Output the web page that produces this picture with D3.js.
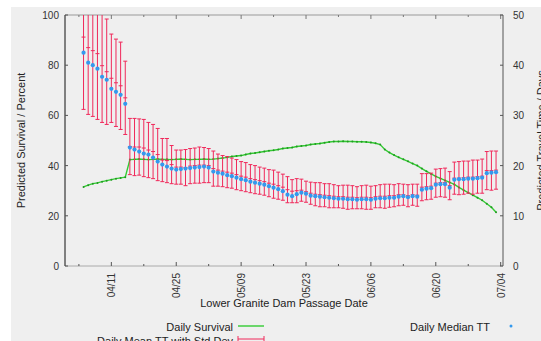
<!doctype html>
<html>
<head>
<meta charset="utf-8">
<script src="https://d3js.org/d3.v7.min.js"></script>
<style>
  body { margin: 0; background: #fff; }
  svg { font-family: 'Liberation Sans', Arial, sans-serif; }
  .tick-label { font-size: 10px; fill: #333; }
  .axis-title { font-size: 11px; fill: #222; }
  .legend text { font-size: 11px; fill: #222; }
</style>
</head>
<body>
<svg width="541" height="341"></svg>
<script>
// first passage date of the daily series, then one value per day
var startDate = "04/05";
var survival = [31.5, 32.2, 32.8, 33.1, 33.6, 34.0, 34.4, 34.8, 35.1, 35.4,
  42.4, 42.5, 42.6, 42.5, 42.4, 42.5, 42.6, 42.5, 42.5, 42.4, 42.5, 42.6, 42.5, 42.4, 42.5, 42.5, 42.6, 42.5, 42.6,
  42.8, 43.0, 43.3, 43.6, 43.8, 44.0, 44.4, 44.8, 45.0, 45.3, 45.6, 45.9, 46.1, 46.4, 46.8, 47.0, 47.2, 47.6, 47.8, 48.0, 48.4, 48.6, 48.8, 49.1, 49.4, 49.6,
  49.6, 49.7, 49.6, 49.6, 49.5, 49.5, 49.4, 49.2, 48.9, 48.4,
  46.4, 45.2, 44.2, 43.3, 42.5, 41.7, 40.8, 40.0, 38.8, 37.7, 36.7, 35.7, 34.9, 34.1, 33.3, 32.5, 31.3, 30.2, 29.2, 28.2, 27.2, 26.2, 24.8, 23.4, 21.4];
var medianTT = [42.5, 40.5, 40.0, 39.3, 37.7, 37.1, 35.3, 34.7, 34.1, 32.3,
  23.6, 23.2, 22.8, 22.4, 22.2, 21.6, 20.8, 20.2, 19.8, 19.4, 19.2, 19.3, 19.4, 19.5, 19.6, 19.7, 19.8, 19.6, 18.8,
  18.6, 18.4, 18.1, 17.9, 17.6, 17.3, 17.1, 16.8, 16.6, 16.4, 16.2, 15.9, 15.6, 15.3, 14.9, 14.2, 13.9, 14.3, 14.6, 14.4, 14.0,
  13.9, 13.8, 13.7, 13.6, 13.5, 13.4, 13.4, 13.3, 13.3, 13.2, 13.3, 13.3, 13.2, 13.4, 13.5, 13.5, 13.6, 13.6, 13.8, 13.9, 13.7, 13.9, 13.8,
  15.2, 15.4, 15.5, 16.2, 16.3, 16.3, 15.6, 17.2, 17.3, 17.3, 17.4, 17.4, 17.5, 17.6, 18.5, 18.6, 18.7];
var meanTT = [45.6, 43.5, 42.9, 42.3, 39.9, 38.7, 37.4, 36.5, 35.9, 33.5,
  23.8, 23.7, 23.7, 23.5, 23.1, 22.8, 22.2, 21.1, 21.0, 20.2, 19.7, 19.7, 19.6, 19.9, 20.0, 20.1, 20.1, 20.0, 19.4,
  19.1, 18.9, 18.7, 18.5, 18.2, 17.9, 17.7, 17.4, 17.2, 17.0, 16.8, 16.5, 16.3, 16.0, 15.7, 15.2, 14.9, 15.0, 15.1, 14.8, 14.5,
  14.3, 14.2, 14.1, 14.0, 13.9, 13.8, 13.8, 13.7, 13.7, 13.6, 13.7, 13.7, 13.6, 13.8, 13.9, 13.9, 14.0, 14.0, 14.2, 14.2, 14.0, 14.2, 14.1,
  15.7, 15.8, 15.9, 16.5, 16.6, 16.6, 16.0, 17.5, 17.5, 17.6, 17.7, 17.7, 17.8, 17.9, 19.0, 19.0, 19.1];
var sdTT = [14.4, 13.3, 13.1, 13.1, 11.3, 10.5, 8.8, 8.7, 8.7, 7.3,
  5.6, 5.7, 5.6, 5.7, 5.5, 5.4, 5.2, 4.3, 4.4, 3.8, 3.4, 3.4, 3.6, 3.5, 3.5, 3.6, 3.5, 3.4, 3.5,
  3.2, 3.1, 3.1, 3.0, 3.0, 2.9, 2.9, 2.8, 2.8, 2.7, 2.7, 2.7, 2.8, 2.7, 2.6, 2.6, 2.3, 2.4, 2.2, 2.1, 2.2,
  2.3, 2.4, 2.3, 2.4, 2.3, 2.2, 2.3, 2.4, 2.3, 2.2, 2.3, 2.4, 2.3, 2.2, 2.3, 2.4, 2.3, 2.2, 2.2, 2.1, 2.2, 2.1, 2.2,
  2.7, 2.6, 2.6, 2.8, 2.8, 2.9, 2.8, 3.2, 3.3, 3.3, 3.2, 3.4, 3.3, 3.4, 3.8, 3.9, 3.8];
var majorTicks = ["04/11", "04/25", "05/09", "05/23", "06/06", "06/20", "07/04"];
var minorTicks = ["04/04", "04/18", "05/02", "05/16", "05/30", "06/13", "06/27"];
var leftTicks = [0, 20, 40, 60, 80, 100];
var rightTicks = [0, 10, 20, 30, 40, 50];

var year = 2008;
function md(s) { var p = s.split("/"); return new Date(Date.UTC(year, +p[0] - 1, +p[1])); }

var first = md(startDate);
var rows = survival.map(function (v, i) {
  return { date: d3.utcDay.offset(first, i), surv: v, med: medianTT[i], mean: meanTT[i], sd: sdTT[i] };
});

var L = 65, R = 503, T = 15, B = 266;
var svg = d3.select("svg");

svg.append("rect").attr("x", 11).attr("y", 7).attr("width", 530).attr("height", 334).attr("fill", "#efefef");

var x = d3.scaleUtc().domain([md("04/01"), new Date(Date.UTC(year, 6, 4, 12))]).range([L, R]);
var yL = d3.scaleLinear().domain([0, 100]).range([B, T]);
var yR = d3.scaleLinear().domain([0, 50]).range([B, T]);

svg.append("clipPath").attr("id", "plot")
  .append("rect").attr("x", L).attr("y", T).attr("width", R - L).attr("height", B - T);

// frame: top and bottom grey, left black, right dark grey
svg.append("line").attr("x1", L).attr("x2", R).attr("y1", T).attr("y2", T).attr("stroke", "#999");
svg.append("line").attr("x1", L).attr("x2", R).attr("y1", B).attr("y2", B).attr("stroke", "#aaa");
svg.append("line").attr("x1", L).attr("x2", L).attr("y1", T).attr("y2", B).attr("stroke", "#111");
svg.append("line").attr("x1", R).attr("x2", R).attr("y1", T).attr("y2", B).attr("stroke", "#555");

var ax = svg.append("g");
majorTicks.forEach(function (t) {
  var xx = x(md(t));
  ax.append("line").attr("x1", xx).attr("x2", xx).attr("y1", B).attr("y2", B - 4).attr("stroke", "#555");
  ax.append("line").attr("x1", xx).attr("x2", xx).attr("y1", T).attr("y2", T + 4).attr("stroke", "#777");
  ax.append("text").attr("class", "tick-label")
    .attr("transform", "translate(" + (xx + 4) + "," + (B + 7) + ") rotate(-90)")
    .attr("text-anchor", "end").text(t);
});
minorTicks.forEach(function (t) {
  var xx = x(md(t));
  ax.append("line").attr("x1", xx).attr("x2", xx).attr("y1", B).attr("y2", B - 2).attr("stroke", "#555");
  ax.append("line").attr("x1", xx).attr("x2", xx).attr("y1", T).attr("y2", T + 2).attr("stroke", "#777");
});
leftTicks.forEach(function (t) {
  var yy = yL(t);
  ax.append("line").attr("x1", L).attr("x2", L + 3).attr("y1", yy).attr("y2", yy).attr("stroke", "#555");
  ax.append("text").attr("class", "tick-label").attr("x", L - 6).attr("y", yy + 4)
    .attr("text-anchor", "end").text(t);
});
rightTicks.forEach(function (t) {
  var yy = yR(t);
  ax.append("line").attr("x1", R - 3).attr("x2", R).attr("y1", yy).attr("y2", yy).attr("stroke", "#555");
  ax.append("text").attr("class", "tick-label").attr("x", R + 10).attr("y", yy + 4).text(t);
});

svg.append("text").attr("class", "axis-title")
  .attr("transform", "translate(25," + ((T + B) / 2) + ") rotate(-90)")
  .attr("text-anchor", "middle").text("Predicted Survival / Percent");
svg.append("text").attr("class", "axis-title")
  .attr("transform", "translate(545," + ((T + B) / 2) + ") rotate(-90)")
  .attr("text-anchor", "middle").text("Predicted Travel Time / Days");
svg.append("text").attr("class", "axis-title")
  .attr("x", (L + R) / 2).attr("y", 307).attr("text-anchor", "middle")
  .text("Lower Granite Dam Passage Date");

var plot = svg.append("g").attr("clip-path", "url(#plot)");
var red = "#f0285a", green = "#33cc33", blue = "#3399ee";

// survival line
plot.append("path").datum(rows)
  .attr("fill", "none").attr("stroke", green).attr("stroke-width", 1.4)
  .attr("d", d3.line().x(function (d) { return x(d.date); }).y(function (d) { return yL(d.surv); }));
plot.selectAll(".sdot").data(rows).join("circle")
  .attr("cx", function (d) { return x(d.date); }).attr("cy", function (d) { return yL(d.surv); })
  .attr("r", 1).attr("fill", "#229922");

// error bars
var eb = plot.selectAll(".eb").data(rows).join("g").attr("stroke", red).attr("stroke-width", 1);
eb.append("line")
  .attr("x1", function (d) { return x(d.date); }).attr("x2", function (d) { return x(d.date); })
  .attr("y1", function (d) { return yR(d.mean + d.sd); }).attr("y2", function (d) { return yR(d.mean - d.sd); });
[function (d) { return d.mean + d.sd; }, function (d) { return d.mean - d.sd; }, function (d) { return d.mean; }].forEach(function (f) {
  eb.append("line")
    .attr("x1", function (d) { return x(d.date) - 2; }).attr("x2", function (d) { return x(d.date) + 2; })
    .attr("y1", function (d) { return yR(f(d)); }).attr("y2", function (d) { return yR(f(d)); });
});

// median points
plot.selectAll(".med").data(rows).join("circle")
  .attr("cx", function (d) { return x(d.date); }).attr("cy", function (d) { return yR(d.med); })
  .attr("r", 2.1).attr("fill", blue);

// legend
var lg = svg.append("g").attr("class", "legend");
lg.append("text").attr("x", 233).attr("y", 331).attr("text-anchor", "end").text("Daily Survival");
lg.append("line").attr("x1", 238).attr("x2", 264).attr("y1", 326).attr("y2", 326).attr("stroke", green).attr("stroke-width", 1.4);
lg.append("text").attr("x", 233).attr("y", 345).attr("text-anchor", "end").text("Daily Mean TT with Std Dev");
lg.append("line").attr("x1", 238).attr("x2", 264).attr("y1", 339).attr("y2", 339).attr("stroke", red);
lg.append("line").attr("x1", 238).attr("x2", 238).attr("y1", 336).attr("y2", 342).attr("stroke", red);
lg.append("line").attr("x1", 264).attr("x2", 264).attr("y1", 336).attr("y2", 342).attr("stroke", red);
lg.append("text").attr("x", 490).attr("y", 331).attr("text-anchor", "end").text("Daily Median TT");
lg.append("circle").attr("cx", 511).attr("cy", 326).attr("r", 1.5).attr("fill", blue);
</script>
</body>
</html>
